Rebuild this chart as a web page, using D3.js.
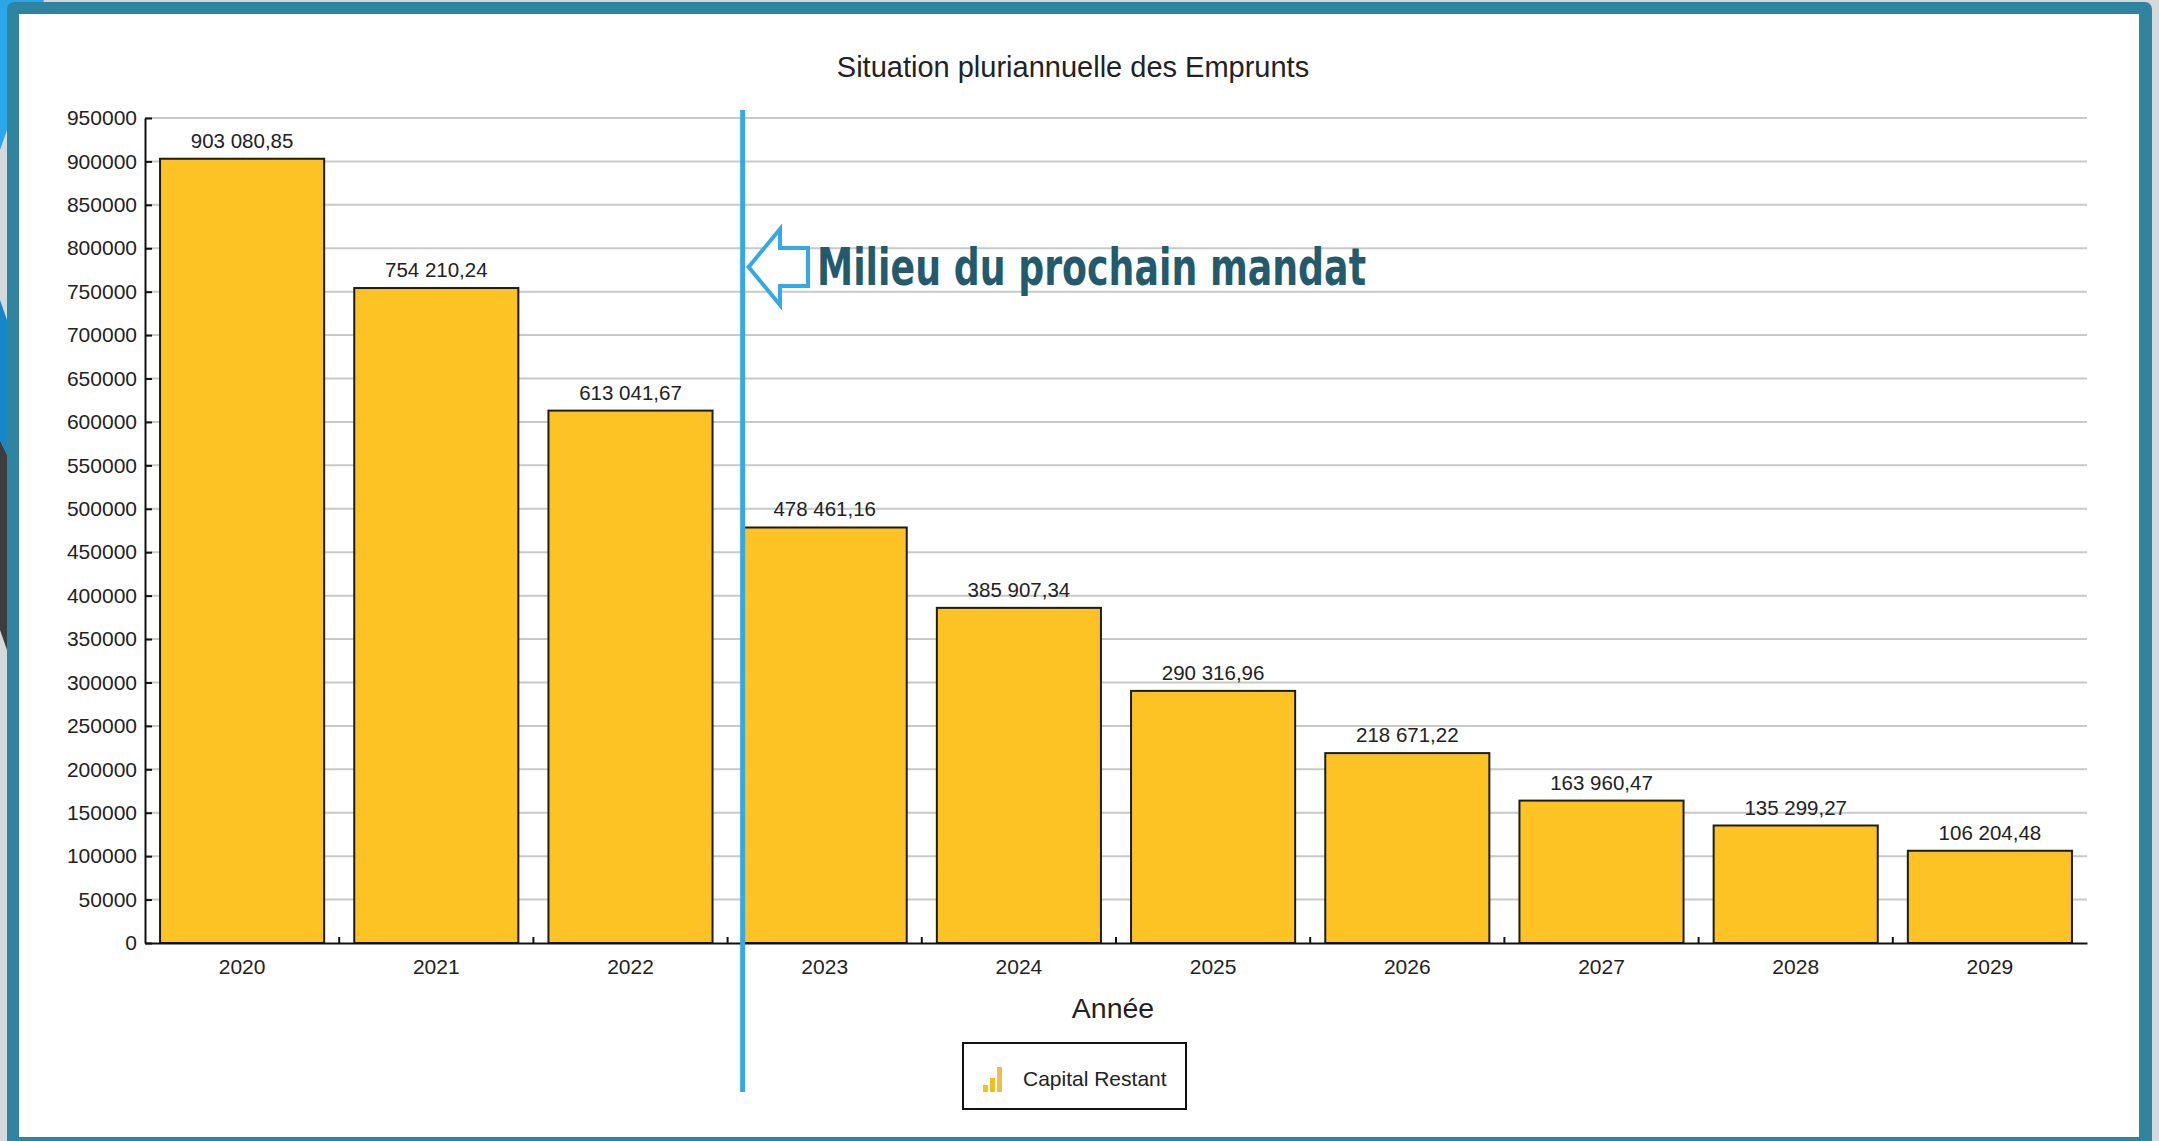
<!DOCTYPE html>
<html>
<head>
<meta charset="utf-8">
<script src="https://cdn.jsdelivr.net/npm/d3@7"></script>
<style>
  body { margin: 0; background: #d6d9db; }
  text { font-family: "Liberation Sans", Arial, sans-serif; fill: #222; }
</style>
</head>
<body>
<div id="chart"></div>
<script>
// data
var years = ["2020", "2021", "2022", "2023", "2024", "2025", "2026", "2027", "2028", "2029"];
var capitalRestant = [903080.85, 754210.24, 613041.67, 478461.16, 385907.34, 290316.96, 218671.22, 163960.47, 135299.27, 106204.48];
var yTicks = [0, 50000, 100000, 150000, 200000, 250000, 300000, 350000, 400000, 450000, 500000,
  550000, 600000, 650000, 700000, 750000, 800000, 850000, 900000, 950000];
var markerYear = "2023";

var svgWidth = 2159;
var svgHeight = 1141;

var margin = { top: 118, right: 72, bottom: 198, left: 145 };
var width = svgWidth - margin.left - margin.right;
var height = svgHeight - margin.top - margin.bottom;

var svg = d3.select("#chart")
  .append("svg")
  .attr("width", svgWidth)
  .attr("height", svgHeight);

// page background and frame
svg.append("rect").attr("width", svgWidth).attr("height", svgHeight).attr("fill", "#d6d9db");
svg.append("path").attr("d", "M0,0 L44,0 L7,130 L0,150 Z").attr("fill", "#2ba6e6");
svg.append("path").attr("d", "M0,300 L7,320 L7,455 L0,440 Z").attr("fill", "#1686c8");
svg.append("path").attr("d", "M0,440 L7,455 L7,650 L0,630 Z").attr("fill", "#3d3d3d");
svg.append("rect")
  .attr("x", 7).attr("y", 2)
  .attr("width", 2145).attr("height", 1150)
  .attr("rx", 7)
  .attr("fill", "#2f84a0");
svg.append("rect")
  .attr("x", 19).attr("y", 14)
  .attr("width", 2120).attr("height", 1123)
  .attr("fill", "#ffffff");

var chartGroup = svg.append("g")
  .attr("transform", `translate(${margin.left}, ${margin.top})`);

// scales
var xBandScale = d3.scaleBand()
  .domain(years)
  .range([0, width])
  .paddingInner(0.155)
  .paddingOuter(0.0775);

var yLinearScale = d3.scaleLinear()
  .domain([0, 950000])
  .range([height, 0]);

// gridlines
chartGroup.selectAll("line.grid")
  .data(yTicks.filter(d => d > 0))
  .enter()
  .append("line")
  .attr("class", "grid")
  .attr("x1", 0)
  .attr("x2", width)
  .attr("y1", d => yLinearScale(d))
  .attr("y2", d => yLinearScale(d))
  .attr("stroke", "#c9c9c9")
  .attr("stroke-width", 2);

// bars
chartGroup.selectAll("rect.bar")
  .data(years)
  .enter()
  .append("rect")
  .attr("class", "bar")
  .attr("x", d => xBandScale(d))
  .attr("y", (d, i) => yLinearScale(capitalRestant[i]))
  .attr("width", xBandScale.bandwidth())
  .attr("height", (d, i) => height - yLinearScale(capitalRestant[i]))
  .attr("fill", "#fdc325")
  .attr("stroke", "#1c1c1c")
  .attr("stroke-width", 2);

// value labels
var fr = d3.formatLocale({ decimal: ",", thousands: " ", grouping: [3], currency: ["", ""] });
var fmt = fr.format(",.2f");

chartGroup.selectAll("text.val")
  .data(years)
  .enter()
  .append("text")
  .attr("class", "val")
  .attr("x", d => xBandScale(d) + xBandScale.bandwidth() / 2)
  .attr("y", (d, i) => yLinearScale(capitalRestant[i]) - 11)
  .attr("text-anchor", "middle")
  .style("font-size", "20.5px")
  .text((d, i) => fmt(capitalRestant[i]));

// axes
var leftAxis = d3.axisLeft(yLinearScale)
  .tickValues(yTicks)
  .tickFormat(d3.format("d"))
  .tickSizeInner(-7)
  .tickSizeOuter(0)
  .tickPadding(8);

var yAxisG = chartGroup.append("g").call(leftAxis);
yAxisG.selectAll("text").style("font-size", "21px").attr("fill", "#222");
yAxisG.selectAll("line, path").attr("stroke", "#111").attr("stroke-width", 2);

var bottomAxis = d3.axisBottom(xBandScale)
  .tickSizeInner(0)
  .tickSizeOuter(0)
  .tickPadding(16);

var xAxisG = chartGroup.append("g")
  .attr("transform", `translate(0, ${height})`)
  .call(bottomAxis);
xAxisG.selectAll("text").style("font-size", "21px").attr("fill", "#222");
xAxisG.select("path").attr("stroke", "#111").attr("stroke-width", 2);

// small ticks between categories
var step = xBandScale.step();
chartGroup.selectAll("line.sep")
  .data(years.slice(1))
  .enter()
  .append("line")
  .attr("class", "sep")
  .attr("x1", d => xBandScale(d) - (step - xBandScale.bandwidth()) / 2)
  .attr("x2", d => xBandScale(d) - (step - xBandScale.bandwidth()) / 2)
  .attr("y1", height)
  .attr("y2", height - 6)
  .attr("stroke", "#111")
  .attr("stroke-width", 2);

// title and axis label
svg.append("text")
  .attr("x", 1073)
  .attr("y", 77)
  .attr("text-anchor", "middle")
  .style("font-size", "29px")
  .text("Situation pluriannuelle des Emprunts");

svg.append("text")
  .attr("x", margin.left + width / 2 - 3)
  .attr("y", 1018)
  .attr("text-anchor", "middle")
  .style("font-size", "28.5px")
  .text("Année");

// legend
var legend = svg.append("g").attr("transform", "translate(963, 1043)");
legend.append("rect")
  .attr("width", 223).attr("height", 66)
  .attr("fill", "#fff")
  .attr("stroke", "#111")
  .attr("stroke-width", 2);
[[20, 18, 7, "#f2c21a"], [27, 11, 14, "#f0bd1c"], [34, 0, 25, "#e9c04a"]].forEach(function(b) {
  legend.append("rect")
    .attr("x", b[0]).attr("y", 24 + b[1])
    .attr("width", 5).attr("height", b[2])
    .attr("fill", b[3]);
});
legend.append("text")
  .attr("x", 60)
  .attr("y", 43)
  .style("font-size", "21px")
  .text("Capital Restant");

// "milieu du prochain mandat" marker, at the left edge of the 2023 bar
var markerX = margin.left + xBandScale(markerYear);
svg.append("line")
  .attr("x1", markerX).attr("x2", markerX)
  .attr("y1", 110).attr("y2", 1092)
  .attr("stroke", "#35a8e6")
  .attr("stroke-width", 5);

svg.append("path")
  .attr("d", `M${markerX + 6},267 L780,229 L780,248 L808,248 L808,286 L780,286 L780,305 Z`)
  .attr("fill", "#fff")
  .attr("stroke", "#35a8e6")
  .attr("stroke-width", 4)
  .attr("stroke-linejoin", "miter");

svg.append("text")
  .attr("x", 817)
  .attr("y", 285)
  .attr("textLength", 549)
  .attr("lengthAdjust", "spacingAndGlyphs")
  .style("font-family", "'DejaVu Sans', sans-serif")
  .style("font-weight", "bold")
  .style("font-size", "51px")
  .style("fill", "#235b6d")
  .text("Milieu du prochain mandat");
</script>
</body>
</html>
